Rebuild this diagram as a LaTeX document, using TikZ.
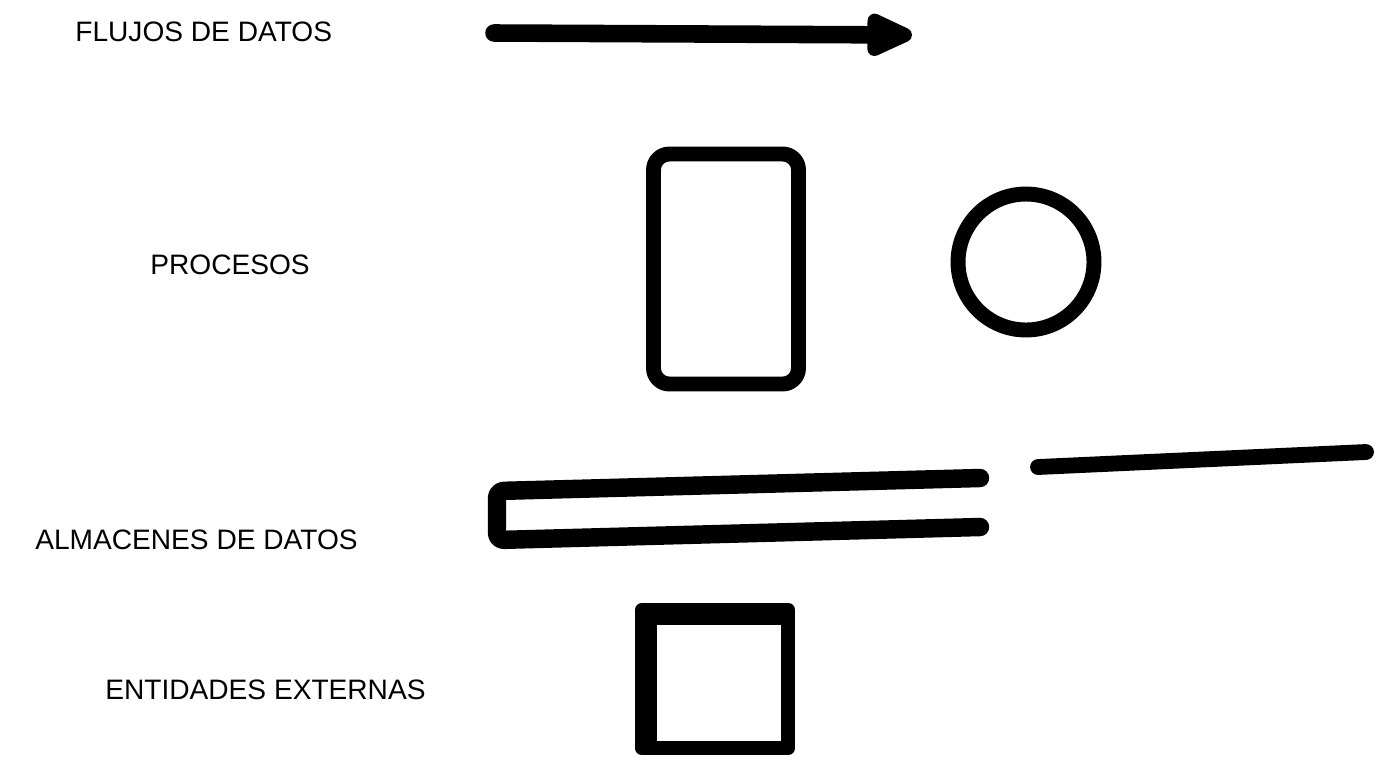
\documentclass[tikz,border=0pt]{standalone}
\usepackage{fontspec}
\setmainfont{Liberation Sans}
\usetikzlibrary{arrows.meta}
\begin{document}
\begin{tikzpicture}
[x=0.02cm, y=-0.02cm, font=\fontsize{16}{19}\selectfont]
\tikzstyle{caption}=[anchor=west, inner sep=0pt]
\tikzstyle{pen}=[line width=8.5pt, line cap=round, line join=round]
\tikzstyle{symbol}=[draw, pen, inner sep=0pt]
\useasboundingbox (0,0) rectangle (1385,762);

% rotulos
\node[caption]	(flujos)	at (75,32)	{FLUJOS DE DATOS};
\node[caption]	(procesos)	at (150,265)	{PROCESOS};
\node[caption]	(almacenes)	at (35,540)	{ALMACENES DE DATOS};
\node[caption]	(entidades)	at (105,690)	{ENTIDADES EXTERNAS};

% flujo
\coordinate (F0) at (494,33);
\coordinate (F1) at (912,35);
\draw [pen, line width=10pt, -{Triangle[round, length=32pt, width=26pt]}] (F0) -- (F1);

% procesos
\node[symbol, rounded corners=9pt, minimum width=2.9cm, minimum height=4.6cm]	(P1)	at (726,269)	{};
\node[symbol, circle, minimum size=2.72cm]	(P2)	at (1026,262)	{};

% almacen
\coordinate (S0) at (980,478);
\coordinate (S1) at (497,491);
\coordinate (S2) at (497,540);
\coordinate (S3) at (980,527);
\coordinate (S4) at (1038,467);
\coordinate (S5) at (1366,452);
\draw [pen, line width=10.5pt, rounded corners=4pt] (S0) -- (S1) -- (S2) -- (S3);
\draw [pen, line width=9pt] (S4) -- (S5);

% entidad externa
\node[symbol, minimum width=2.92cm, minimum height=2.76cm]	(E1)	at (715,679)	{};
\draw [line width=9pt] ([shift={(15,-4)}]E1.south west) |- ([shift={(-6,15)}]E1.north east);
\end{tikzpicture}
\end{document}
